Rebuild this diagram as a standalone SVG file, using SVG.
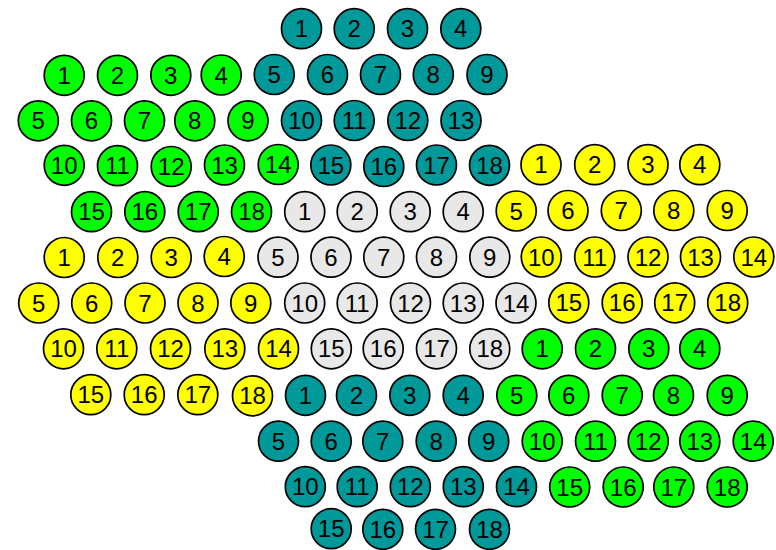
<svg xmlns="http://www.w3.org/2000/svg" width="776" height="550" viewBox="0 0 776 550">
<style>
circle{stroke:#000;stroke-width:1.7}
.t circle{fill:#009999}
.g circle{fill:#00ff00}
.y circle{fill:#ffff00}
.w circle{fill:#e8e8e8}
text{font-family:"Liberation Sans",Arial,sans-serif;font-size:24px;fill:#000;text-anchor:middle}
</style>
<rect width="776" height="550" fill="#fff"/>
<!-- teal group A (top) -->
<g id="tA1" class="t"><circle cx="301.5" cy="28.7" r="20"/><text x="301.5" y="37.2">1</text></g>
<g id="tA2" class="t"><circle cx="354.2" cy="28.7" r="20"/><text x="354.2" y="37.2">2</text></g>
<g id="tA3" class="t"><circle cx="407.5" cy="28.7" r="20"/><text x="407.5" y="37.2">3</text></g>
<g id="tA4" class="t"><circle cx="460.8" cy="28.7" r="20"/><text x="460.8" y="37.2">4</text></g>
<g id="tA5" class="t"><circle cx="274.2" cy="74.5" r="20"/><text x="274.2" y="83">5</text></g>
<g id="tA6" class="t"><circle cx="327.5" cy="74.5" r="20"/><text x="327.5" y="83">6</text></g>
<g id="tA7" class="t"><circle cx="380.5" cy="74.5" r="20"/><text x="380.5" y="83">7</text></g>
<g id="tA8" class="t"><circle cx="433.3" cy="74.5" r="20"/><text x="433.3" y="83">8</text></g>
<g id="tA9" class="t"><circle cx="487" cy="74.5" r="20"/><text x="487" y="83">9</text></g>
<g id="tA10" class="t"><circle cx="301.5" cy="120.5" r="20"/><text x="301.5" y="129">10</text></g>
<g id="tA11" class="t"><circle cx="354.2" cy="120.5" r="20"/><text x="354.2" y="129">11</text></g>
<g id="tA12" class="t"><circle cx="407.8" cy="120.5" r="20"/><text x="407.8" y="129">12</text></g>
<g id="tA13" class="t"><circle cx="461" cy="120.5" r="20"/><text x="461" y="129">13</text></g>
<g id="tA15" class="t"><circle cx="330.8" cy="165" r="20"/><text x="330.8" y="173.5">15</text></g>
<g id="tA16" class="t"><circle cx="383.8" cy="166.5" r="20"/><text x="383.8" y="175">16</text></g>
<g id="tA17" class="t"><circle cx="436.5" cy="165" r="20"/><text x="436.5" y="173.5">17</text></g>
<g id="tA18" class="t"><circle cx="489.5" cy="165.3" r="20"/><text x="489.5" y="173.8">18</text></g>
<!-- green group A (top left) -->
<g id="gA1" class="g"><circle cx="64.2" cy="75.3" r="20"/><text x="64.2" y="83.8">1</text></g>
<g id="gA2" class="g"><circle cx="117.5" cy="75.3" r="20"/><text x="117.5" y="83.8">2</text></g>
<g id="gA3" class="g"><circle cx="170.8" cy="75.3" r="20"/><text x="170.8" y="83.8">3</text></g>
<g id="gA4" class="g"><circle cx="221.2" cy="75" r="20"/><text x="221.2" y="83.5">4</text></g>
<g id="gA5" class="g"><circle cx="38.3" cy="120.8" r="20"/><text x="38.3" y="129.3">5</text></g>
<g id="gA6" class="g"><circle cx="91.5" cy="120.8" r="20"/><text x="91.5" y="129.3">6</text></g>
<g id="gA7" class="g"><circle cx="144.5" cy="120.8" r="20"/><text x="144.5" y="129.3">7</text></g>
<g id="gA8" class="g"><circle cx="194.8" cy="120.8" r="20"/><text x="194.8" y="129.3">8</text></g>
<g id="gA9" class="g"><circle cx="248" cy="120.8" r="20"/><text x="248" y="129.3">9</text></g>
<g id="gA10" class="g"><circle cx="64.2" cy="165.3" r="20"/><text x="64.2" y="173.8">10</text></g>
<g id="gA11" class="g"><circle cx="117.5" cy="165.7" r="20"/><text x="117.5" y="174.2">11</text></g>
<g id="gA12" class="g"><circle cx="171.2" cy="166.5" r="20"/><text x="171.2" y="175">12</text></g>
<g id="gA13" class="g"><circle cx="224.5" cy="165" r="20"/><text x="224.5" y="173.5">13</text></g>
<g id="gA14" class="g"><circle cx="278.2" cy="164.5" r="20"/><text x="278.2" y="173">14</text></g>
<g id="gA15" class="g"><circle cx="91.5" cy="211.7" r="20"/><text x="91.5" y="220.2">15</text></g>
<g id="gA16" class="g"><circle cx="144.8" cy="211.7" r="20"/><text x="144.8" y="220.2">16</text></g>
<g id="gA17" class="g"><circle cx="198.2" cy="211.7" r="20"/><text x="198.2" y="220.2">17</text></g>
<g id="gA18" class="g"><circle cx="251.5" cy="211.7" r="20"/><text x="251.5" y="220.2">18</text></g>
<!-- yellow group A (right) -->
<g id="yA1" class="y"><circle cx="541" cy="164.7" r="20"/><text x="541" y="173.2">1</text></g>
<g id="yA2" class="y"><circle cx="594.7" cy="164.7" r="20"/><text x="594.7" y="173.2">2</text></g>
<g id="yA3" class="y"><circle cx="648" cy="164.7" r="20"/><text x="648" y="173.2">3</text></g>
<g id="yA4" class="y"><circle cx="699.8" cy="164.7" r="20"/><text x="699.8" y="173.2">4</text></g>
<g id="yA5" class="y"><circle cx="516.2" cy="211" r="20"/><text x="516.2" y="219.5">5</text></g>
<g id="yA6" class="y"><circle cx="568" cy="210.5" r="20"/><text x="568" y="219">6</text></g>
<g id="yA7" class="y"><circle cx="621.3" cy="210.5" r="20"/><text x="621.3" y="219">7</text></g>
<g id="yA8" class="y"><circle cx="673.8" cy="210.5" r="20"/><text x="673.8" y="219">8</text></g>
<g id="yA9" class="y"><circle cx="727.2" cy="210.5" r="20"/><text x="727.2" y="219">9</text></g>
<g id="yA10" class="y"><circle cx="541.3" cy="257" r="20"/><text x="541.3" y="265.5">10</text></g>
<g id="yA11" class="y"><circle cx="594.7" cy="257" r="20"/><text x="594.7" y="265.5">11</text></g>
<g id="yA12" class="y"><circle cx="648" cy="257" r="20"/><text x="648" y="265.5">12</text></g>
<g id="yA13" class="y"><circle cx="700.5" cy="257" r="20"/><text x="700.5" y="265.5">13</text></g>
<g id="yA14" class="y"><circle cx="753.8" cy="257" r="20"/><text x="753.8" y="265.5">14</text></g>
<g id="yA15" class="y"><circle cx="568.8" cy="302.8" r="20"/><text x="568.8" y="311.3">15</text></g>
<g id="yA16" class="y"><circle cx="622.2" cy="302.8" r="20"/><text x="622.2" y="311.3">16</text></g>
<g id="yA17" class="y"><circle cx="674.7" cy="302.8" r="20"/><text x="674.7" y="311.3">17</text></g>
<g id="yA18" class="y"><circle cx="727.7" cy="302.8" r="20"/><text x="727.7" y="311.3">18</text></g>
<!-- gray group (centre) -->
<g id="w1" class="w"><circle cx="304.7" cy="211.7" r="20"/><text x="304.7" y="220.2">1</text></g>
<g id="w2" class="w"><circle cx="357.2" cy="211.7" r="20"/><text x="357.2" y="220.2">2</text></g>
<g id="w3" class="w"><circle cx="410.2" cy="211.7" r="20"/><text x="410.2" y="220.2">3</text></g>
<g id="w4" class="w"><circle cx="463.2" cy="211.7" r="20"/><text x="463.2" y="220.2">4</text></g>
<g id="w5" class="w"><circle cx="278" cy="257.2" r="20"/><text x="278" y="265.7">5</text></g>
<g id="w6" class="w"><circle cx="331" cy="257.2" r="20"/><text x="331" y="265.7">6</text></g>
<g id="w7" class="w"><circle cx="383.8" cy="257.2" r="20"/><text x="383.8" y="265.7">7</text></g>
<g id="w8" class="w"><circle cx="436.5" cy="257.2" r="20"/><text x="436.5" y="265.7">8</text></g>
<g id="w9" class="w"><circle cx="489.8" cy="257.2" r="20"/><text x="489.8" y="265.7">9</text></g>
<g id="w10" class="w"><circle cx="304.7" cy="303" r="20"/><text x="304.7" y="311.5">10</text></g>
<g id="w11" class="w"><circle cx="357.2" cy="303" r="20"/><text x="357.2" y="311.5">11</text></g>
<g id="w12" class="w"><circle cx="410.5" cy="303" r="20"/><text x="410.5" y="311.5">12</text></g>
<g id="w13" class="w"><circle cx="463.2" cy="303" r="20"/><text x="463.2" y="311.5">13</text></g>
<g id="w14" class="w"><circle cx="516" cy="303" r="20"/><text x="516" y="311.5">14</text></g>
<g id="w15" class="w"><circle cx="331.3" cy="348.8" r="20"/><text x="331.3" y="357.3">15</text></g>
<g id="w16" class="w"><circle cx="383.2" cy="348.8" r="20"/><text x="383.2" y="357.3">16</text></g>
<g id="w17" class="w"><circle cx="436.5" cy="348.8" r="20"/><text x="436.5" y="357.3">17</text></g>
<g id="w18" class="w"><circle cx="489.8" cy="348.8" r="20"/><text x="489.8" y="357.3">18</text></g>
<!-- yellow group B (left) -->
<g id="yB1" class="y"><circle cx="64.2" cy="257.5" r="20"/><text x="64.2" y="266">1</text></g>
<g id="yB2" class="y"><circle cx="117.8" cy="257.5" r="20"/><text x="117.8" y="266">2</text></g>
<g id="yB3" class="y"><circle cx="171.2" cy="257.5" r="20"/><text x="171.2" y="266">3</text></g>
<g id="yB4" class="y"><circle cx="224.2" cy="256.5" r="20"/><text x="224.2" y="265">4</text></g>
<g id="yB5" class="y"><circle cx="38.7" cy="303" r="20"/><text x="38.7" y="311.5">5</text></g>
<g id="yB6" class="y"><circle cx="91.7" cy="303" r="20"/><text x="91.7" y="311.5">6</text></g>
<g id="yB7" class="y"><circle cx="145" cy="303" r="20"/><text x="145" y="311.5">7</text></g>
<g id="yB8" class="y"><circle cx="198" cy="303" r="20"/><text x="198" y="311.5">8</text></g>
<g id="yB9" class="y"><circle cx="250.8" cy="303" r="20"/><text x="250.8" y="311.5">9</text></g>
<g id="yB10" class="y"><circle cx="63.5" cy="348.8" r="20"/><text x="63.5" y="357.3">10</text></g>
<g id="yB11" class="y"><circle cx="116.8" cy="348.8" r="20"/><text x="116.8" y="357.3">11</text></g>
<g id="yB12" class="y"><circle cx="170.5" cy="348.8" r="20"/><text x="170.5" y="357.3">12</text></g>
<g id="yB13" class="y"><circle cx="224.8" cy="348.8" r="20"/><text x="224.8" y="357.3">13</text></g>
<g id="yB14" class="y"><circle cx="278.5" cy="348.8" r="20"/><text x="278.5" y="357.3">14</text></g>
<g id="yB15" class="y"><circle cx="90.8" cy="394.7" r="20"/><text x="90.8" y="403.2">15</text></g>
<g id="yB16" class="y"><circle cx="144.2" cy="394.7" r="20"/><text x="144.2" y="403.2">16</text></g>
<g id="yB17" class="y"><circle cx="197.8" cy="394.7" r="20"/><text x="197.8" y="403.2">17</text></g>
<g id="yB18" class="y"><circle cx="252.5" cy="395.8" r="20"/><text x="252.5" y="404.3">18</text></g>
<!-- green group B (bottom right) -->
<g id="gB1" class="g"><circle cx="542.2" cy="348.8" r="20"/><text x="542.2" y="357.3">1</text></g>
<g id="gB2" class="g"><circle cx="595.5" cy="348.8" r="20"/><text x="595.5" y="357.3">2</text></g>
<g id="gB3" class="g"><circle cx="648.8" cy="348.8" r="20"/><text x="648.8" y="357.3">3</text></g>
<g id="gB4" class="g"><circle cx="699.8" cy="348.8" r="20"/><text x="699.8" y="357.3">4</text></g>
<g id="gB5" class="g"><circle cx="516.8" cy="395.3" r="20"/><text x="516.8" y="403.8">5</text></g>
<g id="gB6" class="g"><circle cx="568.8" cy="395.3" r="20"/><text x="568.8" y="403.8">6</text></g>
<g id="gB7" class="g"><circle cx="622.2" cy="395.3" r="20"/><text x="622.2" y="403.8">7</text></g>
<g id="gB8" class="g"><circle cx="673.5" cy="395.3" r="20"/><text x="673.5" y="403.8">8</text></g>
<g id="gB9" class="g"><circle cx="727.2" cy="395.3" r="20"/><text x="727.2" y="403.8">9</text></g>
<g id="gB10" class="g"><circle cx="542.2" cy="441.2" r="20"/><text x="542.2" y="449.7">10</text></g>
<g id="gB11" class="g"><circle cx="595.5" cy="441.2" r="20"/><text x="595.5" y="449.7">11</text></g>
<g id="gB12" class="g"><circle cx="648.2" cy="441.2" r="20"/><text x="648.2" y="449.7">12</text></g>
<g id="gB13" class="g"><circle cx="699.8" cy="441.2" r="20"/><text x="699.8" y="449.7">13</text></g>
<g id="gB14" class="g"><circle cx="753.2" cy="441.2" r="20"/><text x="753.2" y="449.7">14</text></g>
<g id="gB15" class="g"><circle cx="569.7" cy="487" r="20"/><text x="569.7" y="495.5">15</text></g>
<g id="gB16" class="g"><circle cx="623.2" cy="487" r="20"/><text x="623.2" y="495.5">16</text></g>
<g id="gB17" class="g"><circle cx="673.8" cy="487" r="20"/><text x="673.8" y="495.5">17</text></g>
<g id="gB18" class="g"><circle cx="727.2" cy="487" r="20"/><text x="727.2" y="495.5">18</text></g>
<!-- teal group B (bottom) -->
<g id="tB1" class="t"><circle cx="305.5" cy="395.3" r="20"/><text x="305.5" y="403.8">1</text></g>
<g id="tB2" class="t"><circle cx="356.5" cy="395.3" r="20"/><text x="356.5" y="403.8">2</text></g>
<g id="tB3" class="t"><circle cx="409.8" cy="395.3" r="20"/><text x="409.8" y="403.8">3</text></g>
<g id="tB4" class="t"><circle cx="463.2" cy="395.3" r="20"/><text x="463.2" y="403.8">4</text></g>
<g id="tB5" class="t"><circle cx="278.5" cy="441.2" r="20"/><text x="278.5" y="449.7">5</text></g>
<g id="tB6" class="t"><circle cx="331.2" cy="441.2" r="20"/><text x="331.2" y="449.7">6</text></g>
<g id="tB7" class="t"><circle cx="382.8" cy="441.2" r="20"/><text x="382.8" y="449.7">7</text></g>
<g id="tB8" class="t"><circle cx="436.2" cy="441.2" r="20"/><text x="436.2" y="449.7">8</text></g>
<g id="tB9" class="t"><circle cx="488.7" cy="441.2" r="20"/><text x="488.7" y="449.7">9</text></g>
<g id="tB10" class="t"><circle cx="305.3" cy="486.7" r="20"/><text x="305.3" y="495.2">10</text></g>
<g id="tB11" class="t"><circle cx="357.2" cy="486.7" r="20"/><text x="357.2" y="495.2">11</text></g>
<g id="tB12" class="t"><circle cx="410.3" cy="486.7" r="20"/><text x="410.3" y="495.2">12</text></g>
<g id="tB13" class="t"><circle cx="463.3" cy="486.7" r="20"/><text x="463.3" y="495.2">13</text></g>
<g id="tB14" class="t"><circle cx="516.5" cy="486.7" r="20"/><text x="516.5" y="495.2">14</text></g>
<g id="tB15" class="t"><circle cx="331.2" cy="528.7" r="20"/><text x="331.2" y="537.2">15</text></g>
<g id="tB16" class="t"><circle cx="382.8" cy="529.3" r="20"/><text x="382.8" y="537.8">16</text></g>
<g id="tB17" class="t"><circle cx="435.5" cy="529.3" r="20"/><text x="435.5" y="537.8">17</text></g>
<g id="tB18" class="t"><circle cx="489.5" cy="529.3" r="20"/><text x="489.5" y="537.8">18</text></g>
</svg>
